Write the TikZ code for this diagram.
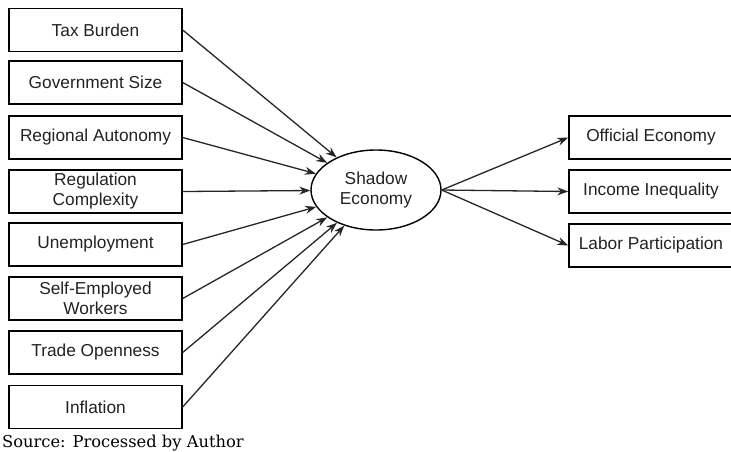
\documentclass[tikz,border=0pt]{standalone}
\usepackage{fontspec}
\setmainfont{Liberation Sans}
\newfontfamily\srcfont{DejaVu Serif}
\usetikzlibrary{arrows.meta,shapes.geometric}
\definecolor{txt}{HTML}{222222}
\begin{document}
\begin{tikzpicture}[x=1pt,y=-1pt,
  box/.style={draw=black,line width=1.4pt,minimum width=173pt,minimum height=43pt,inner sep=0pt,align=center,
    font=\fontsize{17.3}{20}\selectfont,text=txt},
  rbox/.style={box,minimum width=166pt},
  conn/.style={draw=black!85,line width=1.3pt,-{Stealth[length=11pt,width=8pt]}}]
\useasboundingbox (0,0) rectangle (731,451);
\node[box] (tax) at (95.5,30) {Tax Burden};
\node[box] (gov) at (95.5,82.5) {Government Size};
\node[box] (reg) at (95.5,137.5) {Regional Autonomy};
\node[box] (rc) at (95.5,191.5) {Regulation\\Complexity};
\node[box] (une) at (95.5,244.5) {Unemployment};
\node[box] (sew) at (95.5,298.5) {Self-Employed\\Workers};
\node[box] (tro) at (95.5,352.5) {Trade Openness};
\node[box] (inf) at (95.5,407) {Inflation};
\node[draw=black,line width=1.4pt,ellipse,minimum width=130pt,minimum height=80pt,inner sep=0pt,align=center,
  font=\fontsize{17.3}{20}\selectfont,text=txt] (sh) at (376,190) {Shadow\\Economy};
\node[rbox] (off) at (652,137.5) {Official Economy\hspace*{2pt}};
\node[rbox] (ine) at (652,191.5) {Income Inequality\hspace*{2pt}};
\node[rbox] (lab) at (652,245.5) {Labor Participation\hspace*{2pt}};
\foreach \n in {tax,gov,reg,rc,une,sew,tro,inf}{\draw[conn] (\n.east) -- (sh);}
\foreach \n in {off,ine,lab}{\draw[conn] (sh.east) -- (\n.west);}
\node[anchor=base west,inner sep=0pt,font=\srcfont\fontsize{16.3}{18}\selectfont] (src) at (2,447) {Source: Processed by Author};
\end{tikzpicture}
\end{document}
